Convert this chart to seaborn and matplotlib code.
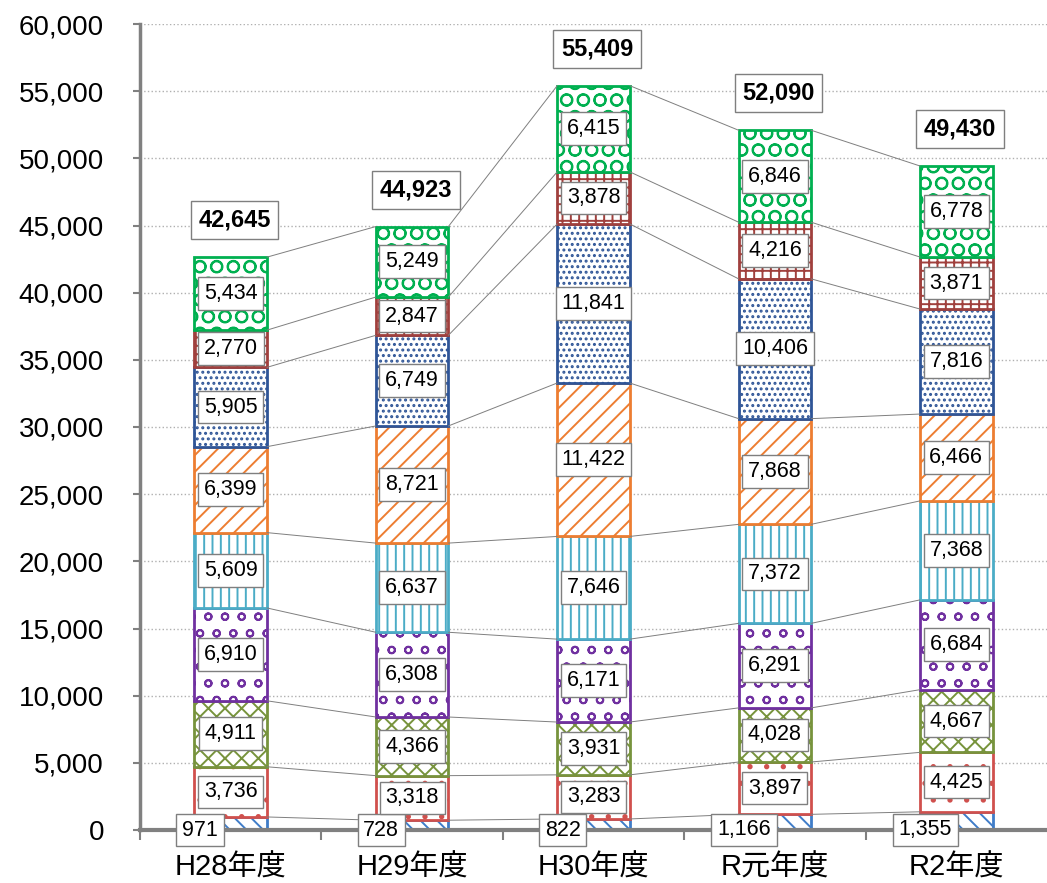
import numpy as np
import matplotlib
matplotlib.use('Agg')
import matplotlib.pyplot as plt
import seaborn as sns

# データ（下から積み上げ順）
years = ['H28年度', 'H29年度', 'H30年度', 'R元年度', 'R2年度']
s1 = [971, 728, 822, 1166, 1355]
s2 = [3736, 3318, 3283, 3897, 4425]
s3 = [4911, 4366, 3931, 4028, 4667]
s4 = [6910, 6308, 6171, 6291, 6684]
s5 = [5609, 6637, 7646, 7372, 7368]
s6 = [6399, 8721, 11422, 7868, 6466]
s7 = [5905, 6749, 11841, 10406, 7816]
s8 = [2770, 2847, 3878, 4216, 3871]
s9 = [5434, 5249, 6415, 6846, 6778]

series = [s1, s2, s3, s4, s5, s6, s7, s8, s9]
colors = ['#3F7CC8', '#D0504D', '#77933C', '#7030A0', '#4BACC6',
          '#ED7D31', '#2F5597', '#A0403D', '#00B050']
hatches = ['\\\\', '.', 'xx', 'o', '||', '//', '...', '++', 'O']

sns.set_style('white')
plt.rcParams['font.family'] = ['Liberation Sans', 'Noto Sans CJK JP', 'DejaVu Sans']
plt.rcParams['hatch.linewidth'] = 1.4

fig = plt.figure(figsize=(10.47, 8.83), dpi=100)
ax = fig.add_axes([140 / 1047, 53 / 883, 907 / 1047, 806 / 883])

bar_w = 0.4
bottom = np.zeros(len(years))
for vals, c, h in zip(series, colors, hatches):
    sns.barplot(x=years, y=vals, bottom=bottom, color='white', saturation=1,
                edgecolor=c, hatch=h, linewidth=2, width=bar_w, ax=ax,
                errorbar=None, order=years)
    bottom = bottom + np.array(vals)

# 系列線
cum = np.cumsum(np.array(series), axis=0)
x = np.arange(len(years))
for level in cum:
    for i in range(len(years) - 1):
        ax.plot([x[i] + bar_w / 2, x[i + 1] - bar_w / 2], [level[i], level[i + 1]],
                color='#7f7f7f', lw=0.7, zorder=1)

# データラベル
box = dict(boxstyle='square,pad=0.27', fc='white', ec='#7f7f7f', lw=1)
prev = np.zeros(len(years))
for k, vals in enumerate(series):
    for i, v in enumerate(vals):
        if k == 0:
            ax.text(x[i] - 0.17, 0, f'{v:,}', ha='center', va='center',
                    fontsize=15.5, color='black', bbox=box, zorder=5)
        else:
            ax.text(x[i], prev[i] + v / 2, f'{v:,}', ha='center', va='center',
                    fontsize=15.5, color='black', bbox=box, zorder=5)
    prev = prev + np.array(vals)

totals = cum[-1]
for i, t in enumerate(totals):
    ax.text(x[i] + 0.02, t + 2750, f'{t:,}', ha='center', va='center',
            fontsize=17, fontweight='bold', color='black',
            bbox=dict(boxstyle='square,pad=0.32', fc='white', ec='#7f7f7f', lw=1),
            zorder=5)

ax.set_xlim(-0.5, 4.5)
ax.set_ylim(0, 60000)
ax.set_yticks(np.arange(0, 60001, 5000))
ax.yaxis.set_major_formatter(matplotlib.ticker.FuncFormatter(lambda v, p: f'{int(v):,}'))
ax.yaxis.grid(True, color='#b0b0b0', linestyle=':', linewidth=1)
ax.set_axisbelow(True)

ax.set_xlabel('')
ax.set_ylabel('')
ax.tick_params(axis='y', labelsize=20, length=5, width=1.5, color='#808080',
               labelcolor='black', pad=21, left=True)
ax.tick_params(axis='x', labelsize=21, length=0, pad=17, labelcolor='black')
ax.set_xticks(np.arange(-0.5, 4.5, 1.0), minor=True)
ax.tick_params(axis='x', which='minor', length=7, width=1.5, color='#808080',
               bottom=True, direction='out')

for s in ['top', 'right']:
    ax.spines[s].set_visible(False)
ax.spines['left'].set_color('#808080')
ax.spines['left'].set_linewidth(2.5)
ax.spines['bottom'].set_color('#808080')
ax.spines['bottom'].set_linewidth(3)

fig.savefig('out.png', dpi=100)
